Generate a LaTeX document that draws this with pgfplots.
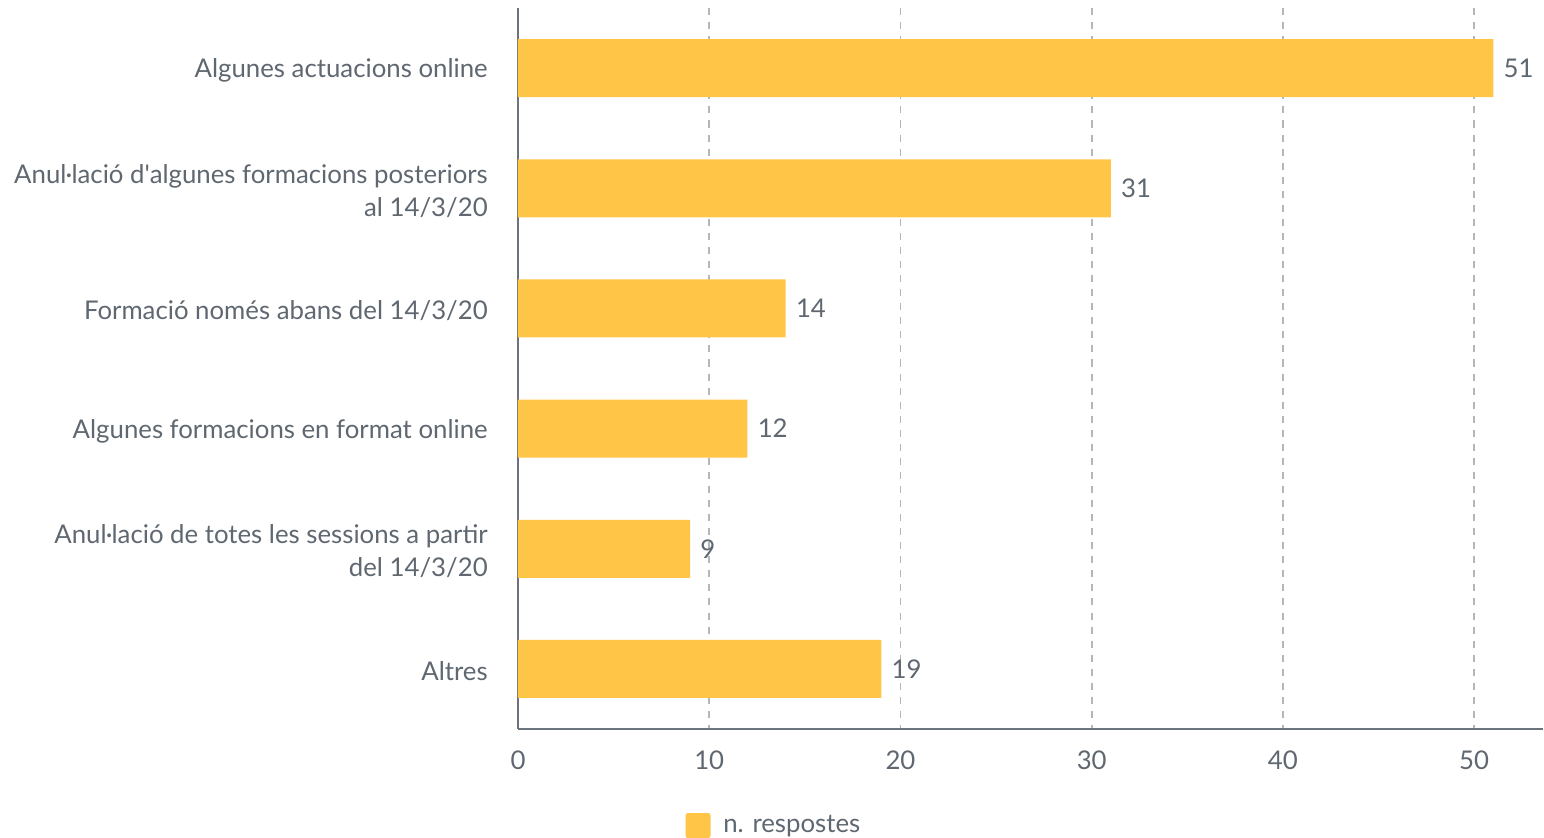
\documentclass[border=0pt]{standalone}
\usepackage{fontspec}
\setmainfont{Lato}
\usepackage{pgfplots}
\pgfplotsset{compat=1.18}
\definecolor{barc}{HTML}{FFC546}
\definecolor{txt}{HTML}{5F6770}
\definecolor{axc}{HTML}{6B737C}
\definecolor{gridc}{HTML}{B3B6BA}

\begin{document}
\begin{tikzpicture}
\begin{axis}[at={(0,0)},anchor=south west,scale only axis,
  width=15.375cm,height=10.815cm,
  xbar,bar width=0.87cm,
  xmin=0,xmax=53.6,ymin=-0.5,ymax=5.5,y dir=reverse,
  ytick={0,1,2,3,4,5},
  yticklabels={Algunes actuacions online,
    {Anul·lació d\textquotesingle algunes formacions posteriors\\al 14/3/20},
    Formació només abans del 14/3/20,
    Algunes formacions en format online,
    {Anul·lació de totes les sessions a partir\\del 14/3/20},
    Altres},
  yticklabel style={align=right,font=\fontsize{11}{14}\selectfont,text=txt,xshift=-0.18cm,yshift=-0.04cm},
  xtick={0,10,...,50},
  xticklabel style={font=\fontsize{11}{13}\selectfont,text=txt,yshift=-0.2cm},
  /pgf/number format/assume math mode=true,
  axis lines*=left,axis line style={draw=axc,line width=1.2pt},
  tick style={draw=none},
  xmajorgrids,major grid style={draw=gridc,dashed,line width=0.8pt},
  nodes near coords,
  every node near coord/.append style={font=\fontsize{11}{13}\selectfont,text=txt,xshift=0.03cm},
  legend style={draw=none,fill=none,at={(0.251,-0.134)},anchor=center,
    font=\fontsize{11}{13}\selectfont,text=txt},
  legend image code/.code={\fill[barc,rounded corners=1pt] (0cm,-0.1875cm) rectangle (0.375cm,0.1875cm);},
  clip=false]
\addplot[fill=barc,draw=none] coordinates {(51,0) (31,1) (14,2) (12,3) (9,4) (19,5)};
\addlegendentry{\hspace{0.12cm}n. respostes}
\end{axis}
\pgfresetboundingbox
\path[use as bounding box] (-7.77,-1.635) rectangle (15.39,10.935);
\end{tikzpicture}
\end{document}
